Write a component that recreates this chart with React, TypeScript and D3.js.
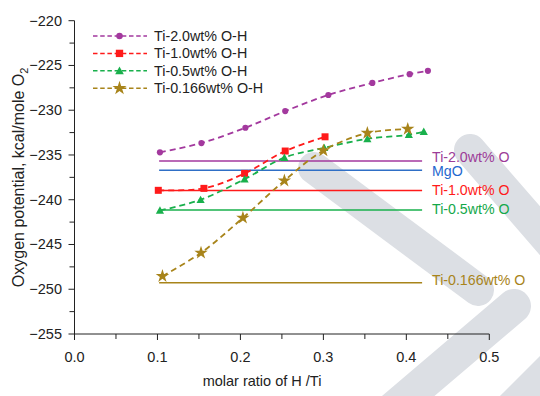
import React from "react";
import * as d3 from "d3";

const W = 540;
const H = 396;

const xTicks = [0, 0.1, 0.2, 0.3, 0.4, 0.5];
const yTicks = [-220, -225, -230, -235, -240, -245, -250, -255];

const seriesNames = ["Ti-2.0wt% O-H", "Ti-1.0wt% O-H", "Ti-0.5wt% O-H", "Ti-0.166wt% O-H"];
const seriesColors = ["#a3399e", "#ff1a1a", "#19b04c", "#a8841a"];
const seriesMarkers = ["circle", "square", "triangle", "star"];

const x20 = [0.103, 0.153, 0.206, 0.254, 0.306, 0.359, 0.404, 0.426];
const y20 = [-234.7, -233.67, -231.96, -230.1, -228.3, -226.95, -225.97, -225.6];
const x10 = [0.101, 0.156, 0.205, 0.254, 0.302];
const y10 = [-238.95, -238.73, -237.06, -234.56, -232.97];
const x05 = [0.103, 0.152, 0.205, 0.253, 0.301, 0.353, 0.403, 0.421];
const y05 = [-241.2, -240.0, -237.7, -235.3, -234.2, -233.2, -232.74, -232.4];
const x0166 = [0.106, 0.1525, 0.203, 0.253, 0.3, 0.353, 0.4017];
const y0166 = [-248.54, -245.93, -242.03, -237.87, -234.5, -232.55, -232.1];

const refNames = ["Ti-2.0wt% O", "MgO", "Ti-1.0wt% O", "Ti-0.5wt% O", "Ti-0.166wt% O"];
const refValues = [-235.67, -236.72, -238.98, -241.14, -249.27];
const refColors = ["#a3399e", "#2f6fc6", "#ff1a1a", "#19b04c", "#a8841a"];
const refTextColors = ["#9c3c98", "#1f68cf", "#ff1a1a", "#14a84a", "#a8841a"];
const refXStart = 0.102;
const refXEnd = 0.419;

const FONT = "'Liberation Sans', Arial, sans-serif";

function Marker({ type, x, y, color, scale = 1 }: { type: string; x: number; y: number; color: string; scale?: number }) {
  if (type === "circle") return <circle cx={x} cy={y} r={3.1 * scale} fill={color} />;
  if (type === "square") {
    const s = 3.5 * scale;
    return <rect x={x - s} y={y - s} width={2 * s} height={2 * s} fill={color} />;
  }
  if (type === "triangle") {
    const s = 4.1 * scale;
    return <path d={`M${x},${y - s}L${x + s},${y + s * 0.8}L${x - s},${y + s * 0.8}Z`} fill={color} />;
  }
  const sym = d3.symbol().type(d3.symbolStar).size(56 * scale * scale)();
  return <path d={sym || ""} transform={`translate(${x},${y})`} fill={color} />;
}

export default function App() {
  const xs = d3.scaleLinear().domain([0, 0.5]).range([74.5, 489.3]);
  const ys = d3.scaleLinear().domain([-255, -220]).range([334, 20.7]);
  const series = [
    { xv: x20, yv: y20 },
    { xv: x10, yv: y10 },
    { xv: x05, yv: y05 },
    { xv: x0166, yv: y0166 },
  ];
  const line = d3
    .line<[number, number]>()
    .x((d) => xs(d[0]))
    .y((d) => ys(d[1]))
    .curve(d3.curveCatmullRom.alpha(0.5));

  const labelOffsets = [-3.6, 0.8, -0.8, -0.8, -2.5];
  const xMinor = d3.range(0, 0.5001, 0.05);
  const yMinor = d3.range(-255, -219.99, 2.5);
  const band = "#dcdfe4";

  return (
    <svg width={W} height={H} style={{ position: "absolute", left: 0, top: 0, background: "#fff" }} fontFamily={FONT}>
      <rect x={0} y={0} width={W} height={H} fill="#fff" />
      {/* watermark bands */}
      <g stroke={band} strokeLinecap="round" fill="none">
        <line x1={314} y1={168} x2={478} y2={290} strokeWidth={32} />
        <line x1={470} y1={150} x2={600} y2={300} strokeWidth={32} />
        <line x1={514} y1={306} x2={380} y2={420} strokeWidth={34} />
        <line x1={600} y1={320} x2={500} y2={420} strokeWidth={34} />
      </g>

      {/* axes */}
      <g stroke="#222" strokeWidth={1}>
        <line x1={xs(0)} y1={ys(-220)} x2={xs(0)} y2={ys(-255)} />
        <line x1={xs(0)} y1={ys(-255)} x2={xs(0.5)} y2={ys(-255)} />
        {yMinor.map((v, i) => (
          <line key={"ym" + i} x1={xs(0) - (i % 2 === 0 ? 6 : 5)} x2={xs(0)} y1={ys(v)} y2={ys(v)} />
        ))}
        {xMinor.map((v, i) => (
          <line key={"xm" + i} x1={xs(v)} x2={xs(v)} y1={ys(-255)} y2={ys(-255) + (i % 2 === 0 ? 6 : 5)} />
        ))}
      </g>
      <g fontSize={14.5} fill="#222">
        {yTicks.map((v) => (
          <text key={"yt" + v} x={62} y={ys(v)} textAnchor="end" dominantBaseline="central">
            {"\u2212" + Math.abs(v)}
          </text>
        ))}
        {xTicks.map((v) => (
          <text key={"xt" + v} x={xs(v)} y={362} textAnchor="middle">
            {v.toFixed(1)}
          </text>
        ))}
        <text x={262} y={386} textAnchor="middle">molar ratio of H /Ti</text>
        <text transform={`translate(24,${(ys(-220) + ys(-255)) / 2}) rotate(-90)`} textAnchor="middle" fontSize={16}>
          Oxygen potential, kcal/mole O
          <tspan fontSize={11} dy={4}>2</tspan>
        </text>
      </g>

      {/* reference lines */}
      {refValues.map((v, i) => (
        <g key={"ref" + i}>
          <line x1={xs(refXStart)} x2={xs(refXEnd)} y1={ys(v)} y2={ys(v)} stroke={refColors[i]} strokeWidth={1.5} />
          <text x={432} y={ys(v) + labelOffsets[i]} dominantBaseline="central" fontSize={14.2} fill={refTextColors[i]}>
            {refNames[i]}
          </text>
        </g>
      ))}

      {/* data series */}
      {series.map((s, i) => {
        const pts = s.xv.map((xv, j) => [xv, s.yv[j]] as [number, number]);
        return (
          <g key={"s" + i}>
            <path d={line(pts) || ""} fill="none" stroke={seriesColors[i]} strokeWidth={1.8} strokeDasharray="6,4" />
            {pts.map((p, j) => (
              <Marker key={j} type={seriesMarkers[i]} x={xs(p[0])} y={ys(p[1])} color={seriesColors[i]} />
            ))}
          </g>
        );
      })}

      {/* legend */}
      {seriesNames.map((n, i) => {
        const ly = 36 + i * 17.4;
        return (
          <g key={"lg" + i}>
            <line x1={93} x2={147} y1={ly} y2={ly} stroke={seriesColors[i]} strokeWidth={1.5} strokeDasharray="4.5,2.7" />
            <Marker type={seriesMarkers[i]} x={119.5} y={ly} color={seriesColors[i]} scale={1.05} />
            <text x={154} y={ly} dominantBaseline="central" fontSize={14.3} fill="#222">
              {n}
            </text>
          </g>
        );
      })}
    </svg>
  );
}
